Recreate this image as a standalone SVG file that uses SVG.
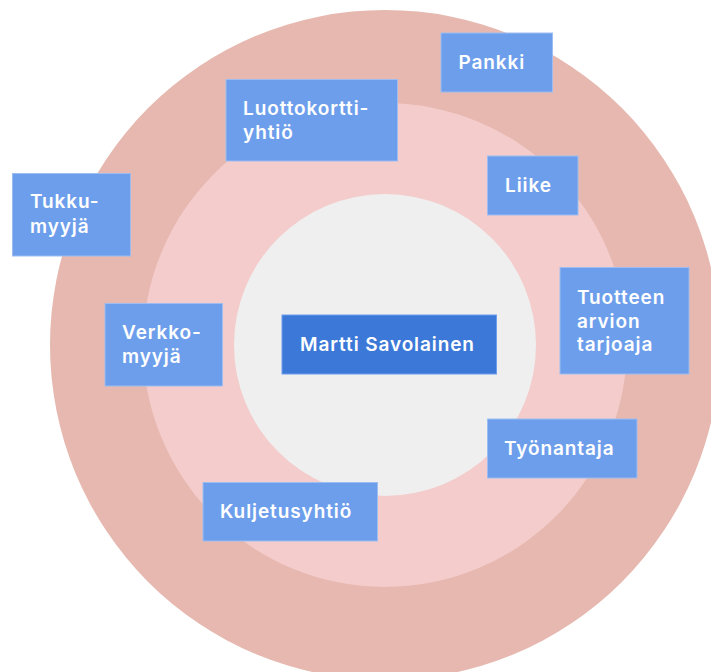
<svg xmlns="http://www.w3.org/2000/svg" width="711" height="672" viewBox="0 0 711 672">
  <style>
    .ring-outer { fill: #e6b8af; }
    .ring-mid { fill: #f4cccc; }
    .ring-inner { fill: #efefef; }
    .box { fill: #6d9eeb; stroke: #9dbdf2; stroke-width: 1; }
    .box-main { fill: #3c78d8; stroke: #6d9eeb; stroke-width: 1; }
    .label { fill: #ffffff; font-family: Inter, "Open Sans", "Liberation Sans", sans-serif; font-size: 19px; font-weight: 600; letter-spacing: 0.9px; }
  </style>

  <!-- concentric circles -->
  <g id="rings">
    <circle class="ring-outer" cx="385" cy="345" r="335"/>
    <circle class="ring-mid" cx="385" cy="345" r="242"/>
    <circle class="ring-inner" cx="385" cy="345" r="151"/>
  </g>

  <g id="connectors"></g>

  <g id="pankki">
    <rect class="box" x="441" y="33" width="111.5" height="59"/>
    <text class="label" x="458.5" y="69">Pankki</text>
  </g>

  <g id="luottokorttiyhtio">
    <rect class="box" x="226" y="79.5" width="171.5" height="81.5"/>
    <text class="label" x="243" y="114.5">Luottokortti-</text>
    <text class="label" x="243" y="138.5">yhtiö</text>
  </g>

  <g id="liike">
    <rect class="box" x="487.5" y="156" width="90.5" height="59"/>
    <text class="label" x="505" y="192">Liike</text>
  </g>

  <g id="tukkumyyja">
    <rect class="box" x="12.5" y="173.5" width="118" height="82.5"/>
    <text class="label" x="30" y="208">Tukku-</text>
    <text class="label" x="30" y="232.5">myyjä</text>
  </g>

  <g id="tuotteen-arvion-tarjoaja">
    <rect class="box" x="560" y="267.5" width="129" height="106.5"/>
    <text class="label" x="577" y="304">Tuotteen</text>
    <text class="label" x="577" y="327.5">arvion</text>
    <text class="label" x="577" y="351">tarjoaja</text>
  </g>

  <g id="verkkomyyja">
    <rect class="box" x="105" y="303.5" width="117.5" height="82.5"/>
    <text class="label" x="122" y="338.5">Verkko-</text>
    <text class="label" x="122" y="362.5">myyjä</text>
  </g>

  <g id="martti-savolainen">
    <rect class="box-main" x="282" y="315" width="214.5" height="59"/>
    <text class="label" x="300" y="351">Martti Savolainen</text>
  </g>

  <g id="tyonantaja">
    <rect class="box" x="487.5" y="419" width="149.5" height="59"/>
    <text class="label" x="504" y="455">Työnantaja</text>
  </g>

  <g id="kuljetusyhtio">
    <rect class="box" x="203" y="482.5" width="174.5" height="58.5"/>
    <text class="label" x="220" y="518">Kuljetusyhtiö</text>
  </g>
</svg>
